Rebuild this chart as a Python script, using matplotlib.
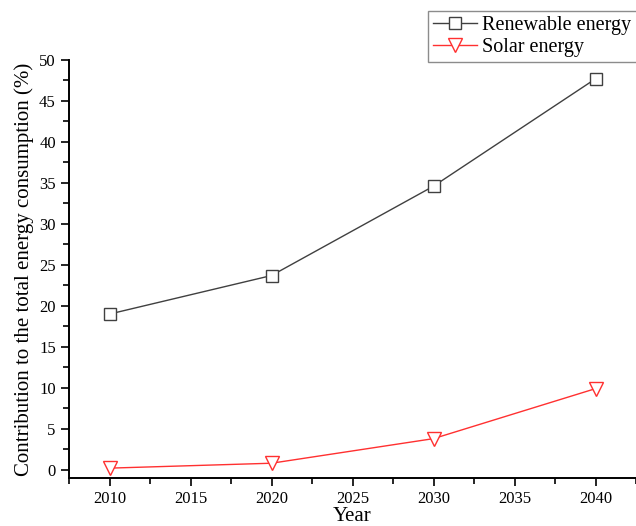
import matplotlib.pyplot as plt
from matplotlib.ticker import MultipleLocator

# Данные
years = [2010, 2020, 2030, 2040]
renewable = [19.0, 23.7, 34.6, 47.7]
solar = [0.2, 0.8, 3.8, 9.9]

plt.rcParams['font.family'] = ['Liberation Serif', 'DejaVu Serif']

fig = plt.figure(figsize=(6.36, 5.26), dpi=100)
ax = fig.add_axes([0.1085, 0.0913, 0.8915, 0.7947])

ax.plot(years, renewable, color='#404040', linewidth=1.0, marker='s',
        markersize=8, markerfacecolor='white', markeredgecolor='#404040',
        markeredgewidth=1.0, label='Renewable energy')
ax.plot(years, solar, color='#ff3030', linewidth=1.0, marker='v',
        markersize=10, markerfacecolor='white', markeredgecolor='#ff3030',
        markeredgewidth=1.0, label='Solar energy')

# Оси
ax.set_xlim(2007.5, 2042.5)
ax.set_ylim(-1.0, 50)
ax.xaxis.set_major_locator(MultipleLocator(5))
ax.xaxis.set_minor_locator(MultipleLocator(2.5))
ax.yaxis.set_major_locator(MultipleLocator(5))
ax.yaxis.set_minor_locator(MultipleLocator(2.5))
ax.tick_params(which='major', direction='out', length=6, width=1.2, labelsize=12)
ax.tick_params(which='minor', direction='out', length=4, width=1.2)

for side in ['top', 'right']:
    ax.spines[side].set_visible(False)
for side in ['left', 'bottom']:
    ax.spines[side].set_linewidth(1.4)

ax.set_xlabel('Year', fontsize=15, labelpad=0)
ax.set_ylabel('Contribution to the total energy consumption (%)', fontsize=15, labelpad=4)

fig.legend(loc='upper left', bbox_to_anchor=(428 / 636, 1 - 11 / 526),
           fontsize=14.5, frameon=True, fancybox=False, edgecolor='#707070',
           borderpad=0.25, handlelength=2.2, handletextpad=0.25, labelspacing=0.12,
           borderaxespad=0)

fig.savefig('out.png', dpi=100)
